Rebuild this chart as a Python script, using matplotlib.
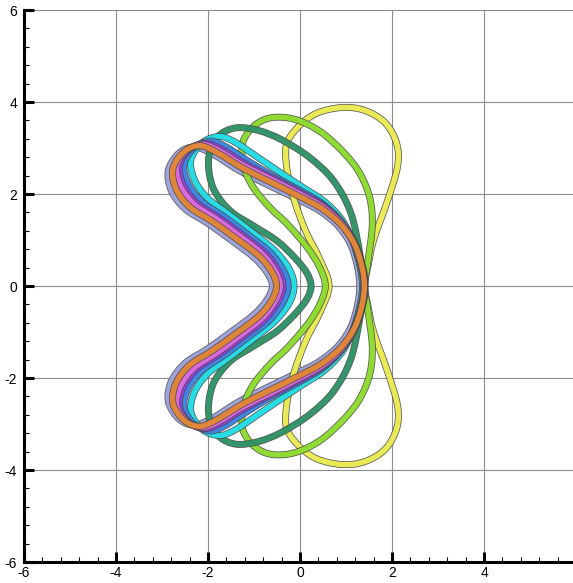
import numpy as np
import matplotlib
matplotlib.use("Agg")
import matplotlib.pyplot as plt
from matplotlib.path import Path
from matplotlib.patches import PathPatch
import matplotlib.patheffects as pe
from matplotlib.ticker import MultipleLocator

plt.rcParams['font.family'] = ['Liberation Sans', 'DejaVu Sans']
plt.rcParams['axes.unicode_minus'] = False

# upper half of each interface (right pinch -> top -> left tip -> inner point), mirrored about y=0
yellow_x = [1.40, 1.47, 1.60, 1.90, 2.12, 2.10, 1.85, 1.40, 0.90, 0.35, -0.05, -0.30, -0.27, -0.12, 0.12, 0.42, 0.63]
yellow_y = [0.00, 0.40, 1.00, 1.85, 2.60, 3.10, 3.55, 3.82, 3.88, 3.75, 3.45, 3.05, 2.45, 1.85, 1.20, 0.60, 0.00]

lgreen_x = [1.40, 1.47, 1.57, 1.52, 1.30, 0.95, 0.45, -0.10, -0.62, -1.00, -1.25, -1.22, -1.02, -0.65, -0.28, 0.15, 0.42, 0.55]
lgreen_y = [0.00, 0.50, 1.30, 1.90, 2.45, 2.90, 3.35, 3.62, 3.66, 3.48, 3.10, 2.60, 2.15, 1.70, 1.35, 0.85, 0.42, 0.00]

dgreen_x = [1.38, 1.30, 1.10, 0.72, 0.20, -0.40, -0.90, -1.38, -1.75, -1.96, -1.98, -1.85, -1.50, -1.00, -0.50, -0.10, 0.15, 0.24]
dgreen_y = [0.00, 0.70, 1.60, 2.30, 2.80, 3.18, 3.38, 3.44, 3.28, 2.92, 2.50, 2.05, 1.62, 1.30, 0.98, 0.60, 0.28, 0.00]

cyan_x = [1.36, 1.22, 0.95, 0.55, 0.05, -0.45, -0.95, -1.40, -1.75, -2.12, -2.37, -2.30, -2.02, -1.55, -1.04, -0.56, -0.24, -0.13]
cyan_y = [0.00, 0.75, 1.38, 1.82, 2.15, 2.48, 2.82, 3.12, 3.25, 3.12, 2.75, 2.32, 1.92, 1.56, 1.17, 0.78, 0.38, 0.00]

blue_x = [1.38, 1.22, 0.92, 0.50, 0.00, -0.60, -1.15, -1.60, -1.95, -2.30, -2.52, -2.44, -2.14, -1.64, -1.14, -0.66, -0.37, -0.26]
blue_y = [0.00, 0.80, 1.36, 1.78, 2.08, 2.40, 2.73, 3.02, 3.15, 3.00, 2.65, 2.24, 1.84, 1.50, 1.12, 0.74, 0.35, 0.00]

purple_x = [1.40, 1.24, 0.93, 0.50, 0.00, -0.60, -1.20, -1.70, -2.05, -2.40, -2.62, -2.54, -2.24, -1.74, -1.24, -0.76, -0.48, -0.37]
purple_y = [0.00, 0.80, 1.35, 1.75, 2.04, 2.35, 2.66, 2.97, 3.10, 2.97, 2.63, 2.20, 1.80, 1.47, 1.10, 0.72, 0.34, 0.00]

magenta_x = [1.40, 1.24, 0.93, 0.50, 0.00, -0.60, -1.22, -1.75, -2.12, -2.45, -2.68, -2.60, -2.30, -1.80, -1.30, -0.82, -0.54, -0.43]
magenta_y = [0.00, 0.79, 1.33, 1.72, 2.00, 2.31, 2.62, 2.94, 3.08, 2.95, 2.61, 2.18, 1.78, 1.45, 1.08, 0.70, 0.33, 0.00]

violet_x = [1.42, 1.25, 0.93, 0.50, 0.00, -0.60, -1.22, -1.78, -2.15, -2.48, -2.72, -2.64, -2.34, -1.84, -1.34, -0.86, -0.58, -0.47]
violet_y = [0.00, 0.79, 1.31, 1.70, 1.97, 2.28, 2.58, 2.92, 3.06, 2.93, 2.58, 2.15, 1.75, 1.42, 1.06, 0.68, 0.32, 0.00]

orange_x = [1.40, 1.24, 0.92, 0.48, -0.02, -0.62, -1.24, -1.80, -2.18, -2.52, -2.76, -2.70, -2.40, -1.90, -1.40, -0.90, -0.62, -0.51]
orange_y = [0.00, 0.78, 1.30, 1.68, 1.95, 2.25, 2.56, 2.90, 3.05, 2.92, 2.56, 2.12, 1.72, 1.40, 1.04, 0.66, 0.32, 0.00]

lav_x = [1.30, 1.15, 0.85, 0.42, -0.08, -0.70, -1.32, -1.88, -2.28, -2.62, -2.86, -2.80, -2.50, -2.00, -1.50, -1.00, -0.72, -0.60]
lav_y = [0.00, 0.78, 1.28, 1.64, 1.90, 2.20, 2.51, 2.86, 3.02, 2.90, 2.52, 2.08, 1.68, 1.36, 1.00, 0.62, 0.30, 0.00]

curves = [
    (lav_x, lav_y, '#a9aeee'),
    (yellow_x, yellow_y, '#ffff58'),
    (lgreen_x, lgreen_y, '#98ee30'),
    (dgreen_x, dgreen_y, '#2e9e6c'),
    (cyan_x, cyan_y, '#22f0fa'),
    (blue_x, blue_y, '#3d8ef8'),
    (violet_x, violet_y, '#5a26b4'),
    (purple_x, purple_y, '#a040f4'),
    (magenta_x, magenta_y, '#f070f2'),
    (orange_x, orange_y, '#f58f38'),
]


def closed_path(xu, yu):
    xu = np.asarray(xu); yu = np.asarray(yu)
    # mirror the upper half to close the outline
    x = np.concatenate([xu, xu[-2:0:-1]])
    y = np.concatenate([yu, -yu[-2:0:-1]])
    p = np.column_stack([x, y])
    n = len(p)
    verts = [p[0]]
    codes = [Path.MOVETO]
    for i in range(n):
        p0, p1, p2, p3 = p[i - 1], p[i], p[(i + 1) % n], p[(i + 2) % n]
        verts += [p1 + (p2 - p0) / 6, p2 - (p3 - p1) / 6, p2]
        codes += [Path.CURVE4] * 3
    return Path(verts, codes)


fig = plt.figure(figsize=(5.73, 5.83), dpi=100)
ax = fig.add_axes([0.0419, 0.036, 0.9634, 0.9468])

for xu, yu, c in curves:
    patch = PathPatch(closed_path(xu, yu), fill=False, edgecolor=c, lw=3.9, alpha=0.88,
                      path_effects=[pe.Stroke(linewidth=5.0, foreground='#454545', alpha=0.9), pe.Normal()],
                      zorder=3)
    ax.add_patch(patch)

ax.set_xlim(-6, 6)
ax.set_ylim(-6, 6)
ax.xaxis.set_major_locator(MultipleLocator(2))
ax.yaxis.set_major_locator(MultipleLocator(2))
ax.xaxis.set_minor_locator(MultipleLocator(0.4))
ax.yaxis.set_minor_locator(MultipleLocator(0.4))
ax.grid(True, which='major', color='#8c8c8c', lw=0.8, zorder=0)
ax.set_axisbelow(True)

ax.spines['top'].set_visible(False)
ax.spines['right'].set_visible(False)
ax.spines['left'].set_linewidth(2.2)
ax.spines['bottom'].set_linewidth(2.2)
ax.tick_params(which='major', direction='in', length=7, width=2.2, labelsize=10, pad=5,
               top=False, right=False)
ax.tick_params(which='minor', direction='in', length=3.5, width=0.8, top=False, right=False)
ax.tick_params(axis='x', which='major', pad=3)
ax.set_xticks([-6, -4, -2, 0, 2, 4])
ax.set_yticks([-6, -4, -2, 0, 2, 4, 6])

fig.savefig('out.png', dpi=100)
